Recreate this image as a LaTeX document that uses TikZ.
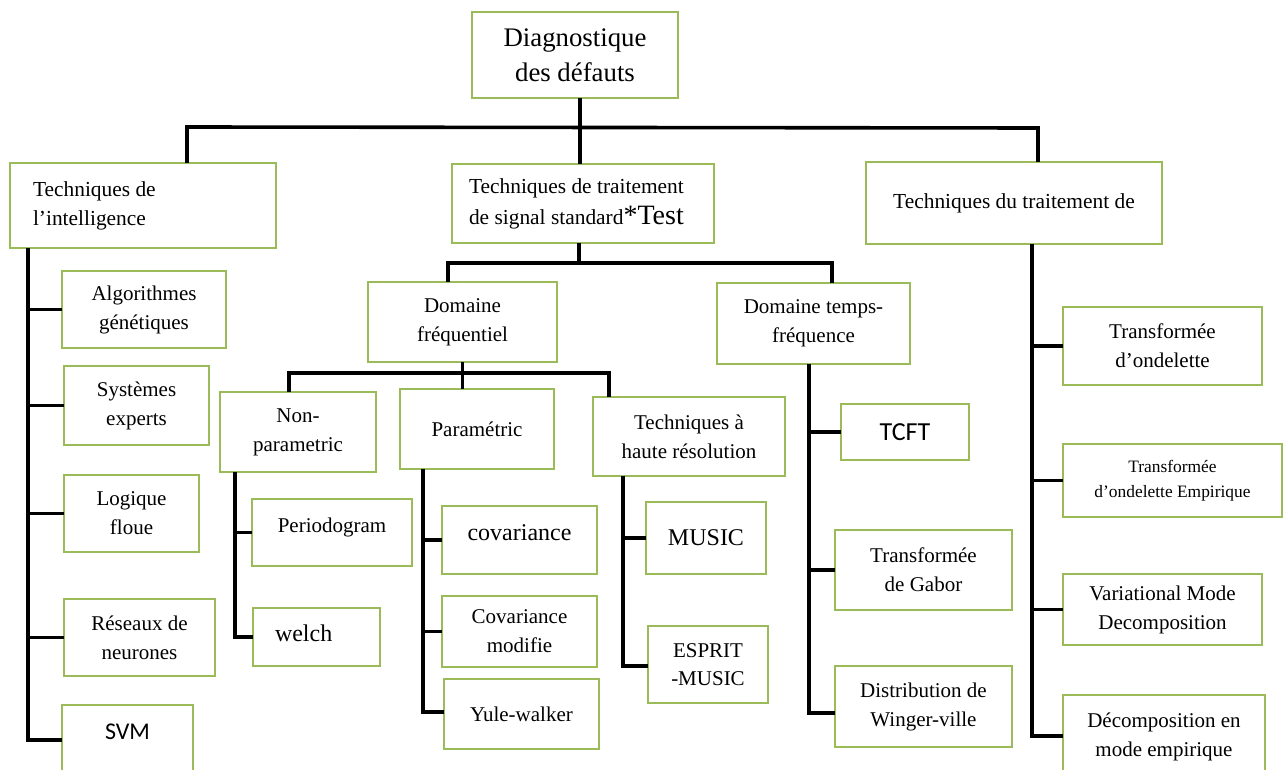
\documentclass[tikz,border=0pt]{standalone}
\usepackage{fontspec}
\setmainfont{Liberation Serif}
\newfontfamily\calibrifont{Carlito}
\definecolor{boxgreen}{HTML}{9BBB59}
\tikzset{
  box/.style={draw=boxgreen, line width=1.4pt, fill=white, inner sep=0pt,
    outer sep=0pt, align=center, text=black,
    font=\fontsize{10.5}{14.5}\selectfont},
  toplevel/.style={font=\fontsize{10.7}{14.5}\selectfont},
  bigtext/.style={font=\fontsize{12}{14}\selectfont},
  sanstext/.style={font=\calibrifont\fontsize{12}{14}\selectfont},
  conn/.style={line width=1.8pt, black, line join=miter},
}
\begin{document}
\begin{tikzpicture}[x=0.5pt, y=-0.5pt]
\clip (0,0) rectangle (1285,770);
\fill[white] (0,0) rectangle (1285,770);

% root and first level
\node[box, minimum width=103pt, minimum height=43pt,
  font=\fontsize{13.4}{17.5}\selectfont] (root) at (575,55) {Diagnostique\\des défauts};
\node[box, toplevel, minimum width=133pt, minimum height=42.5pt, align=flush left,
  text width=110pt] (intel) at (143,205.5) {Techniques de\\l’intelligence};
\node[box, toplevel, minimum width=131pt, minimum height=39.5pt, align=flush left,
  text width=114pt, font=\fontsize{10.7}{15.5}\selectfont] (signal) at (583,203.5)
  {Techniques de traitement\\de signal standard{\fontsize{14}{15.5}\selectfont*Test}};
\node[box, toplevel, minimum width=148pt, minimum height=41pt] (tsig) at (1014,203)
  {Techniques du traitement de};

% intelligence techniques
\node[box, minimum width=82pt, minimum height=38.5pt] (alg) at (144,309.5) {Algorithmes\\génétiques};
\node[box, minimum width=72.5pt, minimum height=39.5pt] (sys) at (136.5,405.5) {Systèmes\\experts};
\node[box, minimum width=67.5pt, minimum height=38.5pt] (logi) at (131.5,513.5) {Logique\\floue};
\node[box, minimum width=75.5pt, minimum height=38.5pt] (rese) at (139.5,637.5) {Réseaux de\\neurones};
\node[box, sanstext, minimum width=65.5pt, minimum height=42.5pt,
  text height=8pt, text depth=16.5pt] (svm) at (127.5,747.5) {SVM};

% standard signal processing
\node[box, minimum width=94.5pt, minimum height=40pt] (dfreq) at (462.5,322) {Domaine\\fréquentiel};
\node[box, minimum width=96.5pt, minimum height=40.5pt] (dtemps) at (813.5,323.5) {Domaine temps-\\fréquence};
\node[box, minimum width=78pt, minimum height=40pt] (nonpar) at (298,432) {Non-\\parametric};
\node[box, minimum width=77pt, minimum height=40pt] (param) at (477,429) {Paramétric};
\node[box, minimum width=96pt, minimum height=39.5pt] (haute) at (689,436.5) {Techniques à\\haute résolution};
\node[box, minimum width=80pt, minimum height=33.5pt, text height=8pt, text depth=8pt]
  (period) at (332,532.5) {Periodogram};
\node[box, bigtext, minimum width=63.5pt, minimum height=29pt, align=flush left, text width=41.5pt,
  text height=9pt, text depth=5pt] (welch) at (316.5,637) {welch};
\node[box, bigtext, minimum width=77.5pt, minimum height=34pt, text height=8pt, text depth=8pt]
  (cov) at (519.5,540) {covariance};
\node[box, minimum width=77.5pt, minimum height=35.5pt] (covmod) at (519.5,631.5) {Covariance\\modifie};
\node[box, minimum width=77.5pt, minimum height=35pt] (yule) at (521.5,714) {Yule-walker};
\node[box, bigtext, minimum width=60pt, minimum height=36pt] (music) at (706,538) {MUSIC};
\node[box, minimum width=60pt, minimum height=38.5pt, font=\fontsize{10.5}{14}\selectfont]
  (esprit) at (708,664.5) {ESPRIT\\-MUSIC};
\node[box, font=\calibrifont\fontsize{13}{15}\selectfont, minimum width=64pt, minimum height=28pt]
  (tcft) at (905,432) {TCFT};
\node[box, minimum width=88.5pt, minimum height=40pt] (gabor) at (923.5,570) {Transformée\\de Gabor};
\node[box, minimum width=88.5pt, minimum height=40.5pt] (winger) at (923.5,706.5) {Distribution de\\Winger-ville};

% signal processing on the right
\node[box, minimum width=99.5pt, minimum height=39pt] (ondel) at (1162.5,346) {Transformée\\d’ondelette};
\node[box, minimum width=109.5pt, minimum height=36.5pt, font=\fontsize{8.7}{12.5}\selectfont]
  (ondelemp) at (1172.5,480.5) {Transformée\\d’ondelette Empirique};
\node[box, minimum width=99.5pt, minimum height=35.5pt] (vmd) at (1162.5,609.5) {Variational Mode\\Decomposition};
\node[box, minimum width=101pt, minimum height=42pt] (demp) at (1164,737) {Décomposition en\\mode empirique};
% the lower box edge hides the foot of the second line
\fill[white] (1066,634) rectangle (1260,643.6);

% junction points
\coordinate (jL) at (187,127);
\coordinate (jR) at (1038,128);
\coordinate (jM) at (580,127);
\coordinate (sA) at (28,740);
\coordinate (sb) at (579,263);
\coordinate (sbL) at (448,263);
\coordinate (sbR) at (832,263);
\coordinate (fL) at (289,373);
\coordinate (fR) at (609,373);
\coordinate (nS) at (235,637);
\coordinate (pS) at (423,712);
\coordinate (hS) at (623,666);
\coordinate (tS) at (809,713);
\coordinate (rS) at (1032,736);

% connectors
\draw[conn] (jM |- root.south) -- (jM |- signal.north);
\draw[conn] (jL |- intel.north) -- (jL) -- (jR) -- (jR |- tsig.north);

\draw[conn] (sA |- intel.south) -- (sA) -- (svm.west |- sA);
\foreach \n in {alg,sys,logi,rese} \draw[conn] (sA |- \n.west) -- (\n.west);

\draw[conn] (signal.south -| sb) -- (sb);
\draw[conn] (sbL |- dfreq.north) -- (sbL) -- (sbR) -- (sbR |- dtemps.north);

\draw[conn] (fL |- nonpar.north) -- (fL) -- (fR) -- (fR |- haute.north);
\draw[conn] (dfreq.south) -- (param.north -| dfreq.south);

\draw[conn] (nS |- nonpar.south) -- (nS) -- (welch.west |- nS);
\draw[conn] (nS |- period.west) -- (period.west);

\draw[conn] (pS |- param.south) -- (pS) -- (yule.west |- pS);
\foreach \n in {cov,covmod} \draw[conn] (pS |- \n.west) -- (\n.west);

\draw[conn] (hS |- haute.south) -- (hS) -- (esprit.west |- hS);
\draw[conn] (hS |- music.west) -- (music.west);

\draw[conn] (tS |- dtemps.south) -- (tS) -- (winger.west |- tS);
\foreach \n in {tcft,gabor} \draw[conn] (tS |- \n.west) -- (\n.west);

\draw[conn] (rS |- tsig.south) -- (rS) -- (demp.west |- rS);
\foreach \n in {ondel,ondelemp,vmd} \draw[conn] (rS |- \n.west) -- (\n.west);
\end{tikzpicture}
\end{document}
